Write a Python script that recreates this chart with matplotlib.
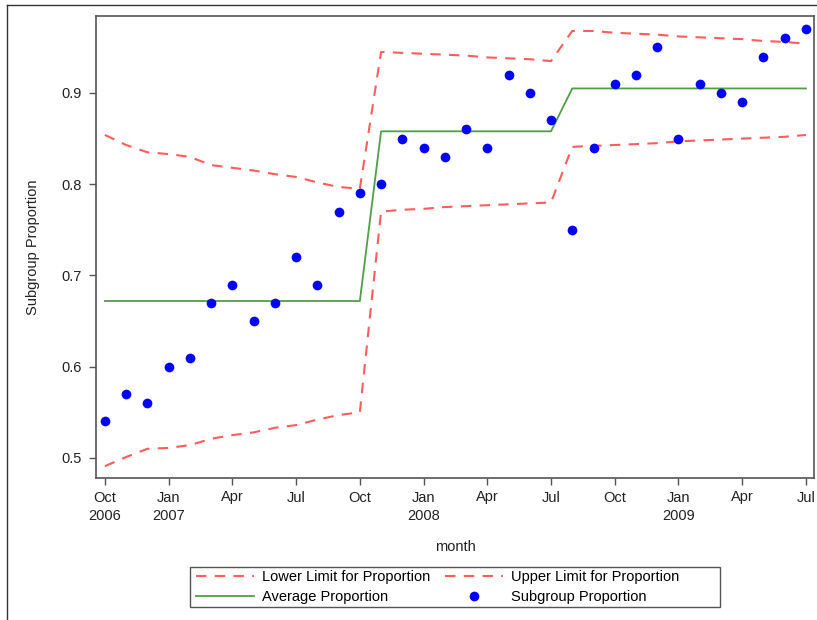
import matplotlib
matplotlib.use('Agg')
import matplotlib.pyplot as plt
from matplotlib.lines import Line2D
from matplotlib.patches import Rectangle

plt.rcParams['font.family'] = ['Liberation Sans', 'DejaVu Sans']

# monthly subgroup proportions, Oct 2006 .. Jul 2009
months = ['Oct', 'Nov', 'Dec', 'Jan', 'Feb', 'Mar', 'Apr', 'May', 'Jun', 'Jul', 'Aug', 'Sep'] * 3
months = months[:34]
years = [2006] * 3 + [2007] * 12 + [2008] * 12 + [2009] * 7

proportion = [0.54, 0.57, 0.56, 0.60, 0.61, 0.67, 0.69, 0.65, 0.67, 0.72, 0.69, 0.77, 0.79,
              0.80, 0.85, 0.84, 0.83, 0.86, 0.84, 0.92, 0.90, 0.87,
              0.75, 0.84, 0.91, 0.92, 0.95, 0.85, 0.91, 0.90, 0.89, 0.94, 0.96, 0.97]

average = [0.672] * 13 + [0.858] * 9 + [0.905] * 12

lower = [0.491, 0.501, 0.510, 0.511, 0.514, 0.521, 0.525, 0.528, 0.533, 0.536, 0.542, 0.547, 0.550,
         0.770, 0.772, 0.773, 0.775, 0.776, 0.777, 0.778, 0.779, 0.780,
         0.841, 0.842, 0.843, 0.844, 0.845, 0.847, 0.848, 0.849, 0.850, 0.851, 0.852, 0.854]

upper = [0.854, 0.843, 0.835, 0.833, 0.830, 0.821, 0.818, 0.815, 0.811, 0.808, 0.802, 0.797, 0.795,
         0.945, 0.944, 0.943, 0.942, 0.941, 0.939, 0.938, 0.937, 0.935,
         0.968, 0.968, 0.966, 0.965, 0.964, 0.962, 0.961, 0.960, 0.959, 0.957, 0.956, 0.954]

x = list(range(len(proportion)))
tick_pos = x[::3]
tick_lbl = []
for i in tick_pos:
    if months[i] == 'Jan' or i == 0:
        tick_lbl.append('{0}\n{1}'.format(months[i], years[i]))
    else:
        tick_lbl.append(months[i])

red = '#ff5c5c'
green = '#4f9f45'
gray = '#555555'
txt = '#222222'

W, H = 817, 620
fig = plt.figure(figsize=(W / 100, H / 100), dpi=100)
ax = fig.add_axes([96 / W, 1 - 478 / H, (814 - 96) / W, (478 - 16) / H])

ax.plot(x, lower, color=red, lw=1.5, dashes=(5, 4), label='Lower Limit for Proportion')
ax.plot(x, average, color=green, lw=1.3, label='Average Proportion')
ax.plot(x, upper, color=red, lw=1.5, dashes=(5, 4), label='Upper Limit for Proportion')
ax.plot(x, proportion, 'o', color='#0000ff', ms=7, mec='none', label='Subgroup Proportion')

ax.set_xlim(-0.42, 33.38)
ax.set_ylim(0.478, 0.9844)
ax.set_xticks(tick_pos)
ax.set_xticklabels(tick_lbl, linespacing=1.4)
ax.set_yticks([0.5, 0.6, 0.7, 0.8, 0.9])
ax.set_yticklabels(['0.5', '0.6', '0.7', '0.8', '0.9'])
ax.tick_params(direction='out', length=5, width=1, color=gray, labelsize=10.5, labelcolor=txt)
ax.tick_params(axis='x', pad=4)
ax.tick_params(axis='y', pad=5)
for s in ax.spines.values():
    s.set_color(gray)
    s.set_linewidth(1.2)

ax.set_xlabel('month', fontsize=10.5, color=txt, labelpad=12)
ax.set_ylabel('Subgroup Proportion', fontsize=10.5, color=txt, labelpad=16)

# legend entries without frame, frame drawn as its own box
leg = fig.legend(loc='center left', bbox_to_anchor=(193 / W, 1 - 587 / H), ncol=2,
                 fontsize=10.5, frameon=False,
                 handlelength=4.0, columnspacing=1.0, handletextpad=0.55,
                 borderpad=0.2, labelspacing=0.4, borderaxespad=0)
fig.add_artist(Rectangle((190 / W, 1 - 607 / H), 530 / W, 40 / H, transform=fig.transFigure,
                         fill=False, edgecolor=gray, lw=1.0))

# outer frame of the picture
fig.add_artist(Line2D([7 / W, 7 / W], [0, 1 - 5 / H], color='#333333', lw=1))
fig.add_artist(Line2D([7 / W, 816 / W], [1 - 5 / H, 1 - 5 / H], color='#333333', lw=1))

fig.savefig('out.png', dpi=100)
